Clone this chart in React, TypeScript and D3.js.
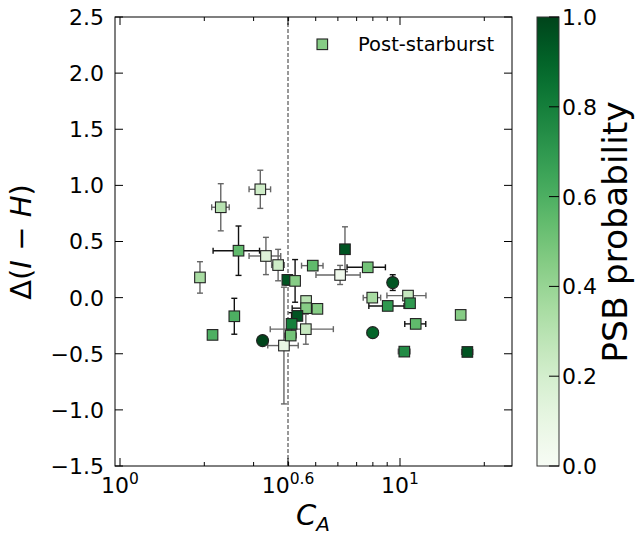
import React from 'react';
import * as d3 from 'd3';

const cA = [1.93, 2.29, 3.17, 2.65, 3.32, 3.67, 3.96, 4.22, 4.88, 6.36, 6.11, 7.67, 9.42, 7.96, 10.68, 10.86, 9.04, 16.47, 11.38, 7.99, 10.36, 17.4, 2.56, 2.14, 3.23, 3.85, 4.62, 4.62, 5.07, 4.3, 4.1, 4.61, 4.07];
const cAErr = [0, 0.165, 0.28, 0.5, 0.43, 0.19, 0.1, 0.05, 0.43, 0.2, 1.1, 1.2, 0.25, 0.57, 1.7, 0, 1.3, 0, 0.98, 0.35, 0.5, 0.8, 0, 0, 0, 0.48, 0, 0.5, 0.2, 0, 0, 1.17, 0.18];
const deltaIH = [0.18, 0.805, 0.965, 0.418, 0.371, 0.29, 0.158, 0.149, 0.285, 0.431, 0.202, 0.27, 0.134, 0.0, 0.018, -0.05, -0.074, -0.154, -0.234, -0.312, -0.481, -0.484, -0.166, -0.332, -0.383, -0.427, -0.03, -0.094, -0.1, -0.163, -0.234, -0.281, -0.338];
const deltaIHErr = [0.14, 0.21, 0.17, 0.22, 0.166, 0.14, 0.045, 0.19, 0.04, 0.2, 0.085, 0.04, 0.07, 0.03, 0.03, 0, 0, 0, 0, 0, 0, 0, 0.16, 0, 0, 0.52, 0, 0, 0, 0, 0.1, 0.134, 0];
const psbProb = [0.35, 0.3, 0.22, 0.55, 0.15, 0.22, 0.95, 0.45, 0.55, 0.95, 0.05, 0.5, 0.95, 0.35, 0.25, 0.7, 0.7, 0.45, 0.55, 0.9, 0.75, 0.95, 0.6, 0.6, 1.0, 0.1, 0.3, 0.45, 0.45, 0.95, 0.8, 0.25, 0.5];
const shape = ['s', 's', 's', 's', 's', 's', 's', 's', 's', 's', 's', 's', 'o', 's', 's', 's', 's', 's', 's', 'o', 's', 's', 's', 's', 'o', 's', 's', 's', 's', 's', 's', 's', 's'];
const errDark = [0, 0, 0, 1, 0, 0, 1, 1, 0, 0, 0, 1, 1, 0, 0, 0, 1, 0, 1, 0, 0, 0, 1, 0, 0, 0, 0, 1, 0, 0, 1, 0, 1];

const xMajor = [1, Math.pow(10, 0.6), 10];
const xMajorLabels = [['10', '0'], ['10', '0.6'], ['10', '1']];
const xMinor = [2, 3, 4, 5, 6, 7, 8, 9, 20];
const yTicks = [-1.5, -1.0, -0.5, 0.0, 0.5, 1.0, 1.5, 2.0, 2.5];
const cbTicks = [0, 0.2, 0.4, 0.6, 0.8, 1.0];

const W = 638, H = 537;
const left = 115, right = 512, top = 17, bottom = 466;
const cbL = 537, cbR = 559;
const font = 'DejaVu Sans, sans-serif';

const fmt = (v: number) => v.toFixed(1).replace('-', '\u2212');

export default function App() {
  const x = d3.scaleLog().domain([0.9596, 25.12]).range([left, right]);
  const y = d3.scaleLinear().domain([-1.5, 2.5]).range([bottom, top]);
  const cb = d3.scaleLinear().domain([0, 1]).range([bottom, top]);
  const color = (p: number) => d3.interpolateGreens(p);
  const stops = d3.range(0, 1.0001, 0.05);

  const pts = cA.map((c, i) => ({
    c, dc: cAErr[i], d: deltaIH[i], dd: deltaIHErr[i], p: psbProb[i], s: shape[i],
    ec: errDark[i] ? '#111' : '#666',
  }));
  const cap = 3;
  const half = 5.3;

  return (
    <div style={{ position: 'absolute', left: 0, top: 0 }}>
      <svg width={W} height={H} style={{ display: 'block' }} fontFamily={font}>
        <defs>
          <linearGradient id="greens" x1="0" y1="1" x2="0" y2="0">
            {stops.map((s) => (
              <stop key={s} offset={s} stopColor={color(s)} />
            ))}
          </linearGradient>
          <clipPath id="plot">
            <rect x={left} y={top} width={right - left} height={bottom - top} />
          </clipPath>
        </defs>
        <rect width={W} height={H} fill="#fff" />

        {/* dashed reference line */}
        <line x1={x(Math.pow(10, 0.6))} x2={x(Math.pow(10, 0.6))} y1={top} y2={bottom}
          stroke="#333" strokeWidth={1} strokeDasharray="4,2" />

        {/* error bars */}
        <g clipPath="url(#plot)" strokeWidth={1.4}>
          {pts.map((p, i) => (
            <g key={i} stroke={p.ec}>
              {p.dc > 0 && (
                <>
                  <line x1={x(p.c - p.dc)} x2={x(p.c + p.dc)} y1={y(p.d)} y2={y(p.d)} />
                  <line x1={x(p.c - p.dc)} x2={x(p.c - p.dc)} y1={y(p.d) - cap} y2={y(p.d) + cap} />
                  <line x1={x(p.c + p.dc)} x2={x(p.c + p.dc)} y1={y(p.d) - cap} y2={y(p.d) + cap} />
                </>
              )}
              {p.dd > 0 && (
                <>
                  <line x1={x(p.c)} x2={x(p.c)} y1={y(p.d - p.dd)} y2={y(p.d + p.dd)} />
                  <line x1={x(p.c) - cap} x2={x(p.c) + cap} y1={y(p.d - p.dd)} y2={y(p.d - p.dd)} />
                  <line x1={x(p.c) - cap} x2={x(p.c) + cap} y1={y(p.d + p.dd)} y2={y(p.d + p.dd)} />
                </>
              )}
            </g>
          ))}
        </g>

        {/* markers */}
        <g stroke="#222" strokeWidth={1.1}>
          {pts.map((p, i) =>
            p.s === 'o' ? (
              <circle key={i} cx={x(p.c)} cy={y(p.d)} r={6} fill={color(p.p)} />
            ) : (
              <rect key={i} x={x(p.c) - half} y={y(p.d) - half} width={half * 2} height={half * 2} fill={color(p.p)} />
            )
          )}
        </g>

        {/* frame */}
        <rect x={left} y={top} width={right - left} height={bottom - top} fill="none" stroke="#000" strokeWidth={1} />

        {/* ticks */}
        <g stroke="#000" strokeWidth={1}>
          {xMajor.map((t, i) => (
            <g key={'M' + i}>
              <line x1={x(t)} x2={x(t)} y1={bottom} y2={bottom - 8} />
              <line x1={x(t)} x2={x(t)} y1={top} y2={top + 8} />
            </g>
          ))}
          {xMinor.map((t, i) => (
            <g key={'m' + i}>
              <line x1={x(t)} x2={x(t)} y1={bottom} y2={bottom - 4} />
              <line x1={x(t)} x2={x(t)} y1={top} y2={top + 4} />
            </g>
          ))}
          {yTicks.map((t, i) => (
            <g key={'y' + i}>
              <line x1={left} x2={left + 8} y1={y(t)} y2={y(t)} />
              <line x1={right} x2={right - 8} y1={y(t)} y2={y(t)} />
            </g>
          ))}
        </g>
        {xMajor.map((t, i) => (
          <text key={'xl' + i} x={x(t)} y={493} textAnchor="middle" fontSize={22} fill="#000">
            <tspan>{xMajorLabels[i][0]}</tspan>
            <tspan dy={-9} fontSize={15.5}>{xMajorLabels[i][1]}</tspan>
          </text>
        ))}
        {yTicks.map((t, i) => (
          <text key={'yl' + i} x={104} y={y(t)} dy="0.36em" textAnchor="end" fontSize={22} fill="#000">
            {fmt(t)}
          </text>
        ))}

        {/* axis labels */}
        <text x={313} y={525} textAnchor="middle" fontSize={29} fill="#000">
          <tspan fontStyle="italic">C</tspan>
          <tspan fontStyle="italic" fontSize={20} dy={6}>A</tspan>
        </text>
        <text transform="translate(31,242) rotate(-90)" textAnchor="middle" fontSize={29} fill="#000">
          <tspan>Δ(</tspan>
          <tspan fontStyle="italic">I</tspan>
          <tspan> − </tspan>
          <tspan fontStyle="italic">H</tspan>
          <tspan>)</tspan>
        </text>

        {/* legend */}
        <rect x={317} y={39} width={10.6} height={10.6} fill={color(0.45)} stroke="#222" strokeWidth={1.1} />
        <text x={358} y={51} fontSize={19.5} fill="#000">Post-starburst</text>

        {/* colorbar */}
        <rect x={cbL} y={top} width={cbR - cbL} height={bottom - top} fill="url(#greens)" stroke="#333" strokeWidth={1} />
        <g stroke="#000" strokeWidth={1}>
          {cbTicks.map((t, i) => (
            <line key={i} x1={cbR} x2={cbR - 10} y1={cb(t)} y2={cb(t)} />
          ))}
        </g>
        {cbTicks.map((t, i) => (
          <text key={'cb' + i} x={562} y={cb(t)} dy="0.36em" fontSize={22} fill="#000">
            {t.toFixed(1)}
          </text>
        ))}
        <text transform="translate(627,232) rotate(-90)" textAnchor="middle" fontSize={34.5} fill="#000">
          PSB probability
        </text>
      </svg>
    </div>
  );
}
